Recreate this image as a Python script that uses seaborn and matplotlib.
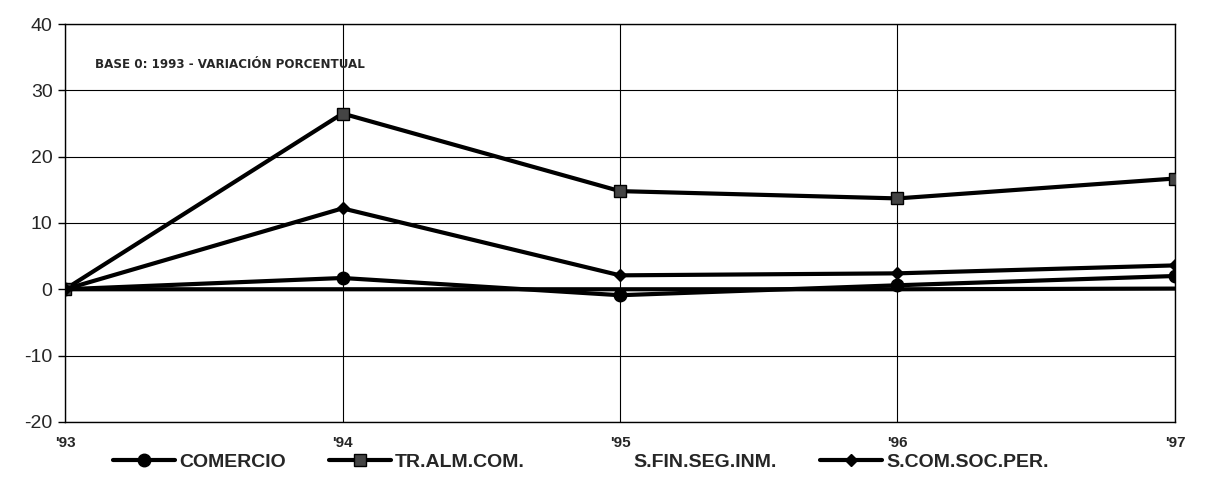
import matplotlib
matplotlib.use("Agg")
import matplotlib.pyplot as plt
from matplotlib.lines import Line2D
import numpy as np
import pandas as pd
import seaborn as sns

years = ["'93", "'94", "'95", "'96", "'97"]
comercio = [0.0, 1.7, -0.9, 0.6, 2.0]
tr_alm_com = [0.0, 26.5, 14.8, 13.7, 16.7]
s_fin_seg_inm = [0.0, 0.0, 0.0, 0.0, 0.1]
s_com_soc_per = [0.0, 12.2, 2.1, 2.4, 3.6]
series_names = ["COMERCIO", "TR.ALM.COM.", "S.FIN.SEG.INM.", "S.COM.SOC.PER."]
y_ticks = [-20, -10, 0, 10, 20, 30, 40]
note = "BASE 0: 1993 - VARIACIÓN PORCENTUAL"

sns.set_theme(style="white")
plt.rcParams["font.family"] = ["Liberation Sans", "DejaVu Sans"]

df = pd.DataFrame({
    "x": list(range(len(years))) * 4,
    "valor": comercio + tr_alm_com + s_fin_seg_inm + s_com_soc_per,
    "serie": sum([[n] * len(years) for n in series_names], []),
})

styles = {
    "COMERCIO": dict(marker="o", markersize=9, markerfacecolor="black"),
    "TR.ALM.COM.": dict(marker="s", markersize=9, markerfacecolor="#444444"),
    "S.FIN.SEG.INM.": dict(marker=None),
    "S.COM.SOC.PER.": dict(marker="D", markersize=6, markerfacecolor="black"),
}

fig = plt.figure(figsize=(12.05, 4.9), dpi=100)
ax = fig.add_axes([0.054, 0.139, 0.921, 0.812])

for name in series_names:
    sub = df[df["serie"] == name]
    sns.lineplot(data=sub, x="x", y="valor", ax=ax, color="black", linewidth=3.0,
                 markeredgecolor="black", markeredgewidth=1.0, legend=False,
                 zorder=3, **styles[name])

ax.set_xlim(0, len(years) - 1)
ax.set_ylim(-20, 40)
ax.set_yticks(y_ticks)
ax.set_yticklabels([str(v) for v in y_ticks], fontsize=14)
ax.set_xticks(range(len(years)))
ax.set_xticklabels(years, fontsize=11, fontweight="bold")
ax.tick_params(axis="x", pad=10, length=0)
ax.tick_params(axis="y", pad=4, length=5, left=True, color="black", width=1)
ax.set_xlabel("")
ax.set_ylabel("")
ax.grid(True, color="black", linewidth=0.8)
for sp in ax.spines.values():
    sp.set_color("black")
    sp.set_linewidth(1.0)

ax.text(0.027, 0.897, note, transform=ax.transAxes, fontsize=8.6,
        fontweight="bold", family=["DejaVu Sans"], ha="left", va="center")

handles = []
for name in series_names:
    st = styles[name]
    if name == "S.FIN.SEG.INM.":
        handles.append(Line2D([], [], linestyle="none", marker=None))
    else:
        handles.append(Line2D([], [], color="black", linewidth=3.0,
                              markeredgecolor="black", **st))
leg = fig.legend(handles, series_names, loc="center", bbox_to_anchor=(0.482, 0.057),
                 ncol=4, frameon=False, handlelength=3.2, handletextpad=0.2,
                 columnspacing=2.2,
                 prop={"family": "Liberation Sans", "weight": "bold", "size": 14})

fig.savefig("out.png", dpi=100)
